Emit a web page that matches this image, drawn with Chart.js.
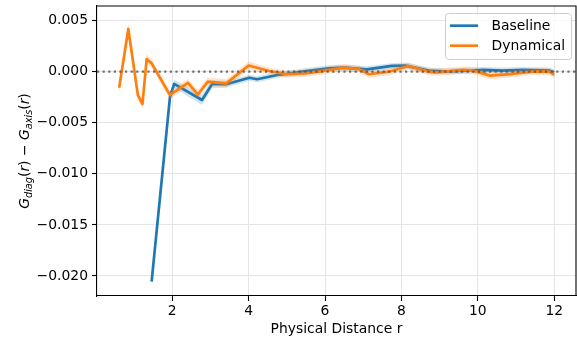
<!DOCTYPE html>
<html>
<head>
<meta charset="utf-8">
<script src="https://cdn.jsdelivr.net/npm/chart.js@4.4.1/dist/chart.umd.min.js"></script>
<style>
  html, body { margin: 0; padding: 0; background: #fff; }
  canvas { display: block; }
</style>
</head>
<body>
<canvas id="myChart" width="577" height="343"></canvas>
<script>
// Data
const baselineR = [1.46, 1.94, 2.05, 2.78, 3.04, 3.41, 4.02, 4.22, 4.75, 4.98, 5.5, 6.1, 6.49, 7.1, 7.75, 8.1, 8.71, 9.23, 10.14, 10.66, 11.18, 11.88, 12.0];
const baselineG = [-0.02056, -0.00248, -0.0012, -0.00277, -0.00123, -0.00123, -0.00059, -0.00074, -0.00032, -0.00023, 0.00007, 0.00033, 0.00039, 0.00023, 0.00056, 0.00059, 0.0001, 0.00002, 0.00017, 0.0001, 0.00017, 0.0001, -0.00006];
const baselineErr = [0.0003, 0.0004, 0.0004, 0.0005, 0.0004, 0.00035, 0.0003, 0.0003, 0.0003, 0.0003, 0.0003, 0.0003, 0.0003, 0.0003, 0.0003, 0.0003, 0.0003, 0.0003, 0.0003, 0.0003, 0.0003, 0.0003, 0.0003];

const dynamicalR = [0.61, 0.85, 1.1, 1.22, 1.33, 1.46, 1.94, 2.41, 2.67, 2.93, 3.41, 4.0, 4.54, 4.98, 5.48, 5.84, 6.49, 6.88, 7.15, 7.67, 8.19, 8.71, 8.92, 9.62, 9.88, 10.32, 10.84, 11.44, 11.88, 12.0];
const dynamicalG = [-0.00157, 0.00418, -0.0023, -0.00316, 0.00124, 0.00082, -0.00228, -0.0011, -0.00223, -0.00098, -0.00114, 0.0006, 0.00007, -0.00024, -0.00018, 0.0, 0.00039, 0.00026, -0.00025, 0.0, 0.00056, 0.0, -0.00006, 0.00017, 0.0001, -0.00039, -0.00023, 0.0, 0.0, -0.00032];
const dynamicalErr = [0.0005, 0.0006, 0.0005, 0.0005, 0.0005, 0.0004, 0.0004, 0.0004, 0.0004, 0.0004, 0.0004, 0.0004, 0.00035, 0.00035, 0.00035, 0.00035, 0.00035, 0.00035, 0.00035, 0.00035, 0.00035, 0.00035, 0.00035, 0.00035, 0.00035, 0.00035, 0.00035, 0.00035, 0.00035, 0.00035];

const xTicks = [2, 4, 6, 8, 10, 12];
const yTicks = [-0.02, -0.015, -0.01, -0.005, 0, 0.005];
const xMin = 0.03, xMax = 12.57;
const yMin = -0.02196, yMax = 0.00643;

const BLUE = "#1f77b4";
const ORANGE = "#ff7f0e";
const FONT = "DejaVu Sans";
const FS = 13.9;

function points(xs, ys, err, sign) {
  return xs.map((x, i) => ({ x: x, y: ys[i] + sign * (err ? err[i] : 0) }));
}

function lineSet(label, xs, ys, color, order) {
  return {
    label: label,
    data: points(xs, ys, null, 0),
    borderColor: color,
    backgroundColor: color,
    borderWidth: 2.7,
    pointRadius: 0,
    borderJoinStyle: "round",
    borderCapStyle: "butt",
    fill: false,
    order: order,
  };
}

function bandSet(xs, ys, err, sign, rgba, order, fill) {
  return {
    label: "",
    data: points(xs, ys, err, sign),
    borderWidth: 0,
    borderColor: "rgba(0,0,0,0)",
    backgroundColor: rgba,
    pointRadius: 0,
    fill: fill,
    order: order,
  };
}

const datasets = [
  {
    label: "zero",
    data: [{ x: xMin, y: 0 }, { x: xMax, y: 0 }],
    borderColor: "rgba(80,80,80,0.8)",
    borderWidth: 2.2,
    borderDash: [2.2, 3.4],
    pointRadius: 0,
    fill: false,
    order: 0,
  },
  lineSet("Dynamical", dynamicalR, dynamicalG, ORANGE, 1),
  bandSet(dynamicalR, dynamicalG, dynamicalErr, 1, "rgba(255,127,14,0.2)", 2, "+1"),
  bandSet(dynamicalR, dynamicalG, dynamicalErr, -1, "rgba(255,127,14,0.2)", 2, false),
  lineSet("Baseline", baselineR, baselineG, BLUE, 3),
  bandSet(baselineR, baselineG, baselineErr, 1, "rgba(31,119,180,0.2)", 4, "+1"),
  bandSet(baselineR, baselineG, baselineErr, -1, "rgba(31,119,180,0.2)", 4, false),
];

// spines on top and right, legend box, y axis label with subscripts
const decorPlugin = {
  id: "decor",
  afterDraw(chart) {
    const ctx = chart.ctx;
    const a = chart.chartArea;
    ctx.save();
    ctx.strokeStyle = "#000";
    ctx.lineWidth = 1.1;
    ctx.beginPath();
    ctx.moveTo(a.left, a.top);
    ctx.lineTo(a.right, a.top);
    ctx.lineTo(a.right, a.bottom);
    ctx.stroke();

    // legend
    const lx = 445.5, ly = 13.5, lw = 126, lh = 46, r = 3;
    ctx.beginPath();
    ctx.moveTo(lx + r, ly);
    ctx.arcTo(lx + lw, ly, lx + lw, ly + lh, r);
    ctx.arcTo(lx + lw, ly + lh, lx, ly + lh, r);
    ctx.arcTo(lx, ly + lh, lx, ly, r);
    ctx.arcTo(lx, ly, lx + lw, ly, r);
    ctx.closePath();
    ctx.fillStyle = "rgba(255,255,255,0.8)";
    ctx.fill();
    ctx.strokeStyle = "#cccccc";
    ctx.lineWidth = 1;
    ctx.stroke();

    const entries = [["Baseline", BLUE, 25.7], ["Dynamical", ORANGE, 45.7]];
    ctx.font = FS + "px '" + FONT + "'";
    ctx.textBaseline = "middle";
    ctx.textAlign = "left";
    entries.forEach(([name, color, y]) => {
      ctx.strokeStyle = color;
      ctx.lineWidth = 2.7;
      ctx.beginPath();
      ctx.moveTo(450, y);
      ctx.lineTo(478, y);
      ctx.stroke();
      ctx.fillStyle = "#000";
      ctx.fillText(name, 491.5, y + 0.5);
    });

    // y axis title: G_diag(r) − G_axis(r)
    const big = FS, small = FS * 0.7;
    const it = (s) => "italic " + s + "px '" + FONT + "'";
    const up = (s) => s + "px '" + FONT + "'";
    const parts = [
      ["G", it(big), 0], ["diag", it(small), 3], ["(", up(big), 0], ["r", it(big), 0], [")", up(big), 0],
      [" \u2212 ", up(big), 0],
      ["G", it(big), 0], ["axis", it(small), 3], ["(", up(big), 0], ["r", it(big), 0], [")", up(big), 0],
    ];
    let total = 0;
    parts.forEach(p => { ctx.font = p[1]; p.push(ctx.measureText(p[0]).width); total += p[3]; });
    ctx.translate(29, (a.top + a.bottom) / 2);
    ctx.rotate(-Math.PI / 2);
    ctx.textBaseline = "alphabetic";
    ctx.fillStyle = "#000";
    let x = -total / 2;
    parts.forEach(p => {
      ctx.font = p[1];
      ctx.fillText(p[0], x, p[2]);
      x += p[3];
    });
    ctx.restore();
  },
};

const ctx = document.getElementById("myChart");

new Chart(ctx, {
  type: "line",
  data: { datasets: datasets },
  plugins: [decorPlugin],
  options: {
    responsive: false,
    devicePixelRatio: 1,
    animation: false,
    layout: { padding: { top: 6, right: 1, left: 0, bottom: 0 } },
    plugins: {
      legend: { display: false },
      tooltip: { enabled: false },
    },
    scales: {
      x: {
        type: "linear",
        min: xMin,
        max: xMax,
        afterBuildTicks: (scale) => { scale.ticks = xTicks.map(v => ({ value: v })); },
        afterFit: (scale) => { scale.height = 47; scale.paddingLeft = 0; scale.paddingRight = 0; },
        ticks: {
          color: "#000",
          font: { family: FONT, size: FS },
          padding: 2,
          maxRotation: 0,
          callback: (v) => String(v),
        },
        grid: { color: "#e5e5e5", lineWidth: 1, tickLength: 5, tickColor: "#000", tickWidth: 1.1 },
        border: { color: "#000", width: 1.1 },
        title: {
          display: true,
          text: "Physical Distance r",
          color: "#000",
          font: { family: FONT, size: FS },
          padding: { top: 0, bottom: 5 },
        },
      },
      y: {
        type: "linear",
        min: yMin,
        max: yMax,
        afterBuildTicks: (scale) => { scale.ticks = yTicks.map(v => ({ value: v })); },
        afterFit: (scale) => { scale.width = 97; scale.paddingTop = 0; scale.paddingBottom = 0; },
        ticks: {
          color: "#000",
          font: { family: FONT, size: FS },
          padding: 4,
          callback: (v) => v.toFixed(3).replace("-", "\u2212"),
        },
        grid: { color: "#e5e5e5", lineWidth: 1, tickLength: 5, tickColor: "#000", tickWidth: 1.1 },
        border: { color: "#000", width: 1.1 },
      },
    },
  },
});
</script>
</body>
</html>
